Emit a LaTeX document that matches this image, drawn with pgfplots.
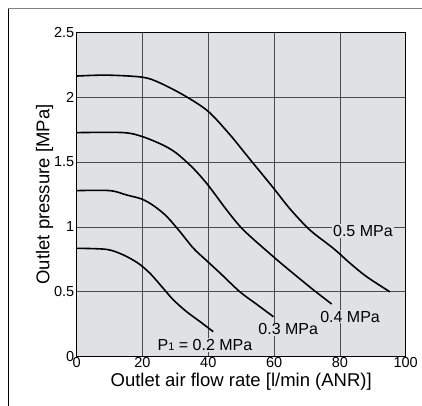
\documentclass[border=0pt]{standalone}
\usepackage{fontspec}
\setmainfont{Liberation Sans}
\usepackage{pgfplots}
\pgfplotsset{compat=1.18}
\definecolor{bggray}{HTML}{E0E1E3}
\definecolor{gridgray}{HTML}{4A4A4A}
\begin{document}
\begin{tikzpicture}
\path[use as bounding box] (-76.7pt,-48.3pt) rectangle (345.3pt,356.7pt);
\begin{axis}[
    scale only axis,
    width=329pt, height=324.4pt,
    xmin=0, xmax=100, ymin=0, ymax=2.5,
    xtick={0,20,40,60,80,100},
    ytick={0,0.5,1,1.5,2,2.5},
    yticklabels={0,0.5,1,1.5,2,2.5},
    grid=major,
    grid style={gridgray, line width=0.8pt},
    axis line style={black, line width=1.2pt},
    axis background/.style={fill=bggray},
    tick style={draw=none},
    /pgf/number format/assume math mode=true,
    ticklabel style={font=\fontsize{14.5}{16}\selectfont},
    xticklabel style={yshift=3pt},
    yticklabel style={xshift=1pt},
    xlabel={Outlet air flow rate [l/min (ANR)]},
    ylabel={Outlet pressure [MPa]},
    label style={font=\fontsize{18.5}{20}\selectfont},
    xlabel style={yshift=1pt},
    ylabel style={yshift=-6pt},
    clip=false,
]
% 0.5 MPa
\addplot[black, line width=1.6pt, smooth, tension=0.5] coordinates {
    (0,2.163) (9.1,2.17) (20,2.154) (25.3,2.11) (32.9,2.01)
    (40,1.89) (46.6,1.71) (52.7,1.52) (59.8,1.30) (64.8,1.14)
    (70.9,0.976) (78,0.835) (83.1,0.72) (88.1,0.617) (95.2,0.50)
};
% 0.4 MPa
\addplot[black, line width=1.6pt, smooth, tension=0.5] coordinates {
    (0,1.727) (14.2,1.727) (20,1.696) (26.3,1.63) (30.4,1.567) (35.5,1.45)
    (40,1.32) (45.6,1.13) (50.7,0.976) (59.8,0.77) (65.9,0.64)
    (72,0.514) (77.5,0.406)
};
% 0.3 MPa
\addplot[black, line width=1.6pt, smooth, tension=0.5] coordinates {
    (0,1.28) (10.1,1.28) (15.2,1.246) (20,1.213) (23.8,1.156) (27.4,1.08)
    (31.4,0.963) (35.5,0.835) (39.5,0.74) (43.6,0.644) (49.6,0.50)
    (54.7,0.404) (59.8,0.308)
};
% 0.2 MPa
\addplot[black, line width=1.6pt, smooth, tension=0.5] coordinates {
    (0,0.835) (9.1,0.827) (14.2,0.784) (18.7,0.72) (22.3,0.642)
    (26.3,0.527) (29.4,0.437) (33.4,0.347) (37.5,0.27) (41.5,0.193)
};
\begin{scope}[every node/.style={font=\fontsize{16}{18}\selectfont, fill=bggray, inner sep=1pt}]
\node at (axis cs:87,0.968) {0.5 MPa};
\node at (axis cs:83.1,0.308) {0.4 MPa};
\node at (axis cs:64.3,0.21) {0.3 MPa};
\node at (axis cs:39,0.09) {P{\fontsize{11}{12}\selectfont 1} = 0.2 MPa};
\end{scope}
\end{axis}
\draw[black, line width=0.9pt] (-68.5pt,-60pt) -- (-68.5pt,347.7pt);
\draw[gray, line width=1pt] (-68.5pt,347.7pt) -- (360pt,347.7pt);
\end{tikzpicture}
\end{document}
